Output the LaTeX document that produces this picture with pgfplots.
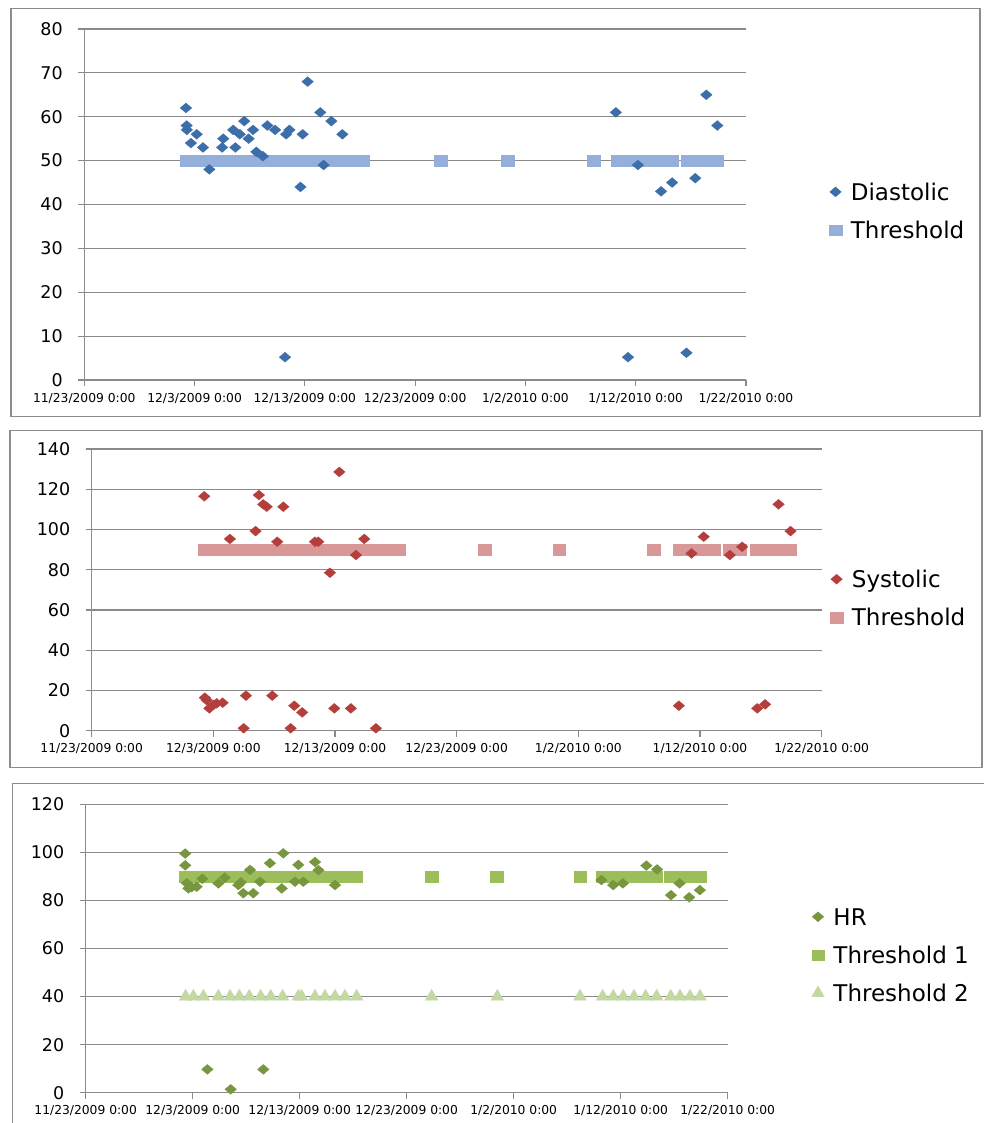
\documentclass[border=0pt]{standalone}
\usepackage{fontspec}
\setmainfont{DejaVu Sans}
\usepackage{pgfplots}
\pgfplotsset{compat=1.18}
\usepackage{pgfplotstable}

\definecolor{gridgray}{RGB}{138,138,138}
\definecolor{framegray}{RGB}{140,140,140}
\definecolor{diacol}{RGB}{60,110,170}
\definecolor{thrblue}{RGB}{148,175,218}
\definecolor{syscol}{RGB}{180,62,60}
\definecolor{thrred}{RGB}{217,152,152}
\definecolor{hrcol}{RGB}{119,150,62}
\definecolor{thrgreen}{RGB}{155,190,90}
\definecolor{thrlight}{RGB}{196,216,164}

% days counted from 11/23/2009 0:00
\pgfplotstableread{
x y
9.22 62
9.28 58
9.30 57
9.67 54
10.19 56
10.76 53
11.34 48
12.5 53
12.6 55
13.5 57
13.7 53
14.1 56
14.5 59
14.9 55
15.3 57
15.6 52
16.2 51
16.6 58
17.3 57
18.2 5.2
18.3 56
18.6 57
19.6 44
19.8 56
20.25 68
21.4 61
21.7 49
22.4 59
23.4 56
48.2 61
49.3 5.2
50.2 49
52.3 43
53.3 45
54.6 6.2
55.4 46
56.4 65
57.4 58
}\diastolic

\pgfplotstableread{
x y
9.25 116.5
9.3 16.4
9.45 15.2
9.67 11.1
10.0 12.8
10.27 13.6
10.76 13.9
11.36 95.3
12.49 1.2
12.68 17.4
13.47 99.2
13.74 117.1
14.1 112.5
14.38 111.3
14.84 17.4
15.25 93.9
15.75 111.3
16.35 1.2
16.65 12.4
17.3 9.1
18.35 93.9
18.62 93.9
19.58 78.5
19.94 11.1
20.35 128.6
21.3 11.1
21.72 87.3
22.4 95.3
23.36 1.2
48.26 12.4
49.3 88.1
50.3 96.4
52.45 87.3
53.46 91.4
54.7 11.1
55.35 13.1
56.45 112.5
57.44 99.2
}\systolic

\pgfplotstableread{
x y
9.3 99.5
9.3 94.6
9.45 87.2
9.6 85
9.9 85.5
10.37 85.7
10.9 89
12.4 87.1
13.0 89.5
14.26 86.4
14.5 87.5
14.73 83
15.36 92.7
15.66 83
16.29 87.8
17.22 95.5
18.32 85
18.47 99.6
19.56 87.8
19.87 94.8
20.34 87.8
21.43 96
21.75 92.6
23.3 86.4
11.37 9.7
13.55 1.4
16.6 9.7
48.2 88.5
49.3 86.4
50.2 87.1
52.4 94.5
53.4 92.9
54.7 82.2
55.5 87.1
56.4 81.3
57.4 84.3
}\heartrate

% threshold readings: diastolic, systolic, heart-rate threshold 1
\pgfplotstableread{
x dia sys hr
9.3 50 90 90
10.0 50 90 90
10.7 50 90 90
11.4 50 90 90
12.1 50 90 90
12.8 50 90 90
13.5 50 90 90
14.4 50 90 90
15.3 50 90 90
16.3 50 90 90
17.3 50 90 90
18.4 50 90 90
19.1 50 90 90
19.9 50 90 90
20.6 50 90 90
21.4 50 90 90
22.4 50 90 90
23.3 50 90 90
24.2 50 90 90
25.25 50 90 90
32.3 50 90 90
38.4 50 90 90
46.2 50 90 90
48.3 50 90 90
49.3 50 90 90
50.2 50 90 90
51.15 50 90 90
52.4 50 90 90
53.3 50 90 90
54.65 50 90 90
55.5 50 90 90
56.5 50 90 90
57.35 50 90 90
}\thrdays

% heart-rate threshold 2
\pgfplotstableread{
x y
9.34 40
10.06 40
11.0 40
12.4 40
13.49 40
14.36 40
15.29 40
16.35 40
17.29 40
18.4 40
19.87 40
20.18 40
21.43 40
22.36 40
23.3 40
24.23 40
25.32 40
32.33 40
38.47 40
46.2 40
48.31 40
49.3 40
50.24 40
51.24 40
52.33 40
53.36 40
54.67 40
55.54 40
56.47 40
57.41 40
}\tridays

\pgfplotsset{
  excel/.style={
    scale only axis,
    anchor=south west,
    axis lines*=left,
    axis line style={gridgray, line width=1.3pt},
    ymajorgrids,
    grid style={gridgray, line width=1.2pt},
    tick align=outside,
    major tick length=6pt,
    tick style={gridgray, line width=1.2pt},
    xmin=0, xmax=60,
    xtick={0,10,20,30,40,50,60},
    xticklabels={11/23/2009 0:00,12/3/2009 0:00,12/13/2009 0:00,12/23/2009 0:00,1/2/2010 0:00,1/12/2010 0:00,1/22/2010 0:00},
    xticklabel style={font=\fontsize{12.3}{15}\selectfont, yshift=-3.5pt},
    yticklabel style={font=\fontsize{17.5}{21}\selectfont, xshift=-12pt},
    /pgf/number format/assume math mode=true,
    ymin=0,
    clip=false,
    legend image code/.code={\draw[##1] plot coordinates {(0pt,0pt)};},
    legend cell align=left,
    legend style={draw=none, fill=none, inner sep=0pt, anchor=west,
      font=\fontsize{23}{28}\selectfont, row sep=21.5pt,
      nodes={inner sep=0pt, text height=16.7pt, text depth=0pt},
      /tikz/every odd column/.append style={column sep=9pt}},
  },
  dia/.style={color=#1, only marks, mark=diamond*, mark size=5pt,
    mark options={xscale=1.56, draw=#1, fill=#1, line width=0.2pt}},
  sq/.style={color=#1, only marks, mark=square*, mark size=5.2pt,
    mark options={xscale=1.22, draw=#1, fill=#1, line width=0.1pt}},
  tri/.style={color=#1, only marks, mark=triangle*, mark size=7.5pt,
    mark options={draw=#1, fill=#1, line width=0.1pt}},
}

\begin{document}
\begin{tikzpicture}
\path[fill=white, use as bounding box] (0pt,0pt) rectangle (983pt,1123pt);

% panel frames
\draw[framegray, line width=1.3pt] (11pt,706.3pt) rectangle (980pt,1114.7pt);
\draw[framegray, line width=1.3pt] (10pt,355.3pt) rectangle (982pt,692.3pt);
\draw[framegray, line width=1.3pt] (12.7pt,-5pt) -- (12.7pt,339.7pt) -- (990pt,339.7pt);

% diastolic
\begin{axis}[excel, at={(84.3pt,743pt)}, width=661.7pt, height=351pt,
  ymax=80, ytick={0,10,...,80},
  legend style={at={(1.1254,0.4815)}}]
\addplot[sq=thrblue, forget plot] table[x=x, y=dia] {\thrdays};
\addplot[dia=diacol, forget plot] table[x=x, y=y] {\diastolic};
\addlegendimage{dia=diacol}
\addlegendentry{Diastolic}
\addlegendimage{sq=thrblue}
\addlegendentry{Threshold}
\end{axis}

% systolic
\begin{axis}[excel, at={(91.7pt,392.3pt)}, width=730pt, height=281.7pt,
  ymax=140, ytick={0,20,...,140},
  legend style={at={(1.0114,0.470)}}]
\addplot[sq=thrred, forget plot] table[x=x, y=sys] {\thrdays};
\addplot[dia=syscol, forget plot] table[x=x, y=y] {\systolic};
\addlegendimage{dia=syscol}
\addlegendentry{Systolic}
\addlegendimage{sq=thrred}
\addlegendentry{Threshold}
\end{axis}

% heart rate
\begin{axis}[excel, at={(85.7pt,30.3pt)}, width=642pt, height=288.4pt,
  ymax=120, ytick={0,20,...,120},
  legend style={at={(1.1302,0.4775)}}]
\addplot[tri=thrlight, forget plot] table[x=x, y=y] {\tridays};
\addplot[sq=thrgreen, forget plot] table[x=x, y=hr] {\thrdays};
\addplot[dia=hrcol, forget plot] table[x=x, y=y] {\heartrate};
\addlegendimage{dia=hrcol}
\addlegendentry{HR}
\addlegendimage{sq=thrgreen}
\addlegendentry{Threshold 1}
\addlegendimage{tri=thrlight}
\addlegendentry{Threshold 2}
\end{axis}
\end{tikzpicture}
\end{document}
